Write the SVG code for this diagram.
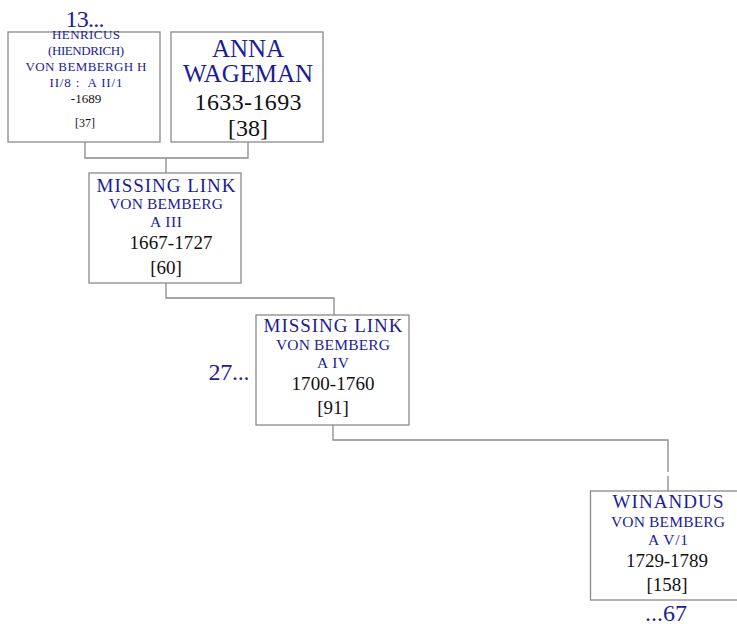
<svg xmlns="http://www.w3.org/2000/svg" width="737" height="626" viewBox="0 0 737 626">
<style>
.box{fill:#fff;stroke:#8a8a8a;stroke-width:1.3}
.ln{fill:none;stroke:#8a8a8a;stroke-width:1.3}
text{font-family:"Liberation Serif","DejaVu Serif",serif;text-anchor:middle}
.b{fill:#1c1c96}
.k{fill:#111}
</style>
<rect width="737" height="626" fill="#fff"/>
<g id="connectors">
<path class="ln" d="M85,142 V158 H248 V142 M166,158 V173"/>
<path class="ln" d="M166,283 V298 H334 V315"/>
<path class="ln" d="M333,425 V440 H668 V472 M668,476 V491"/>
</g>
<g id="n37">
<rect class="box" x="8" y="32" width="152" height="110"/>
<text class="b" x="86" y="39" font-size="13" textLength="68">HENRICUS</text>
<text class="b" x="86" y="55" font-size="13" textLength="76">(HIENDRICH)</text>
<text class="b" x="86" y="71" font-size="13" textLength="121">VON BEMBERGH H</text>
<text class="b" x="86" y="87" font-size="13" textLength="73" xml:space="preserve">II/8 :  A II/1</text>
<text class="k" x="86" y="103" font-size="13">-1689</text>
<text class="k" x="85" y="127" font-size="12">[37]</text>
</g>
<g id="n38">
<rect class="box" x="171" y="32" width="152" height="110"/>
<text class="b" x="248" y="57" font-size="25" textLength="72">ANNA</text>
<text class="b" x="248" y="82" font-size="25" textLength="130">WAGEMAN</text>
<text class="k" x="248" y="110" font-size="24" textLength="107">1633-1693</text>
<text class="k" x="248" y="136" font-size="24">[38]</text>
</g>
<g id="n60">
<rect class="box" x="89" y="173" width="152" height="110"/>
<text class="b" x="166" y="192" font-size="19" textLength="139">MISSING LINK</text>
<text class="b" x="166" y="209" font-size="15.5" textLength="114">VON BEMBERG</text>
<text class="b" x="166" y="227" font-size="15.5" textLength="32">A III</text>
<text class="k" x="171" y="249" font-size="19" textLength="83">1667-1727</text>
<text class="k" x="166" y="274" font-size="19">[60]</text>
</g>
<g id="n91">
<rect class="box" x="256" y="315" width="153" height="110"/>
<text class="b" x="333" y="332" font-size="19" textLength="139">MISSING LINK</text>
<text class="b" x="333" y="350" font-size="15.5" textLength="114">VON BEMBERG</text>
<text class="b" x="333" y="368" font-size="15.5" textLength="32">A IV</text>
<text class="k" x="333" y="390" font-size="19" textLength="83">1700-1760</text>
<text class="k" x="333" y="414" font-size="19">[91]</text>
<text class="b" x="229" y="380" font-size="24" textLength="41">27...</text>
</g>
<g id="n158">
<rect class="box" x="590.5" y="491" width="160" height="109"/>
<text class="b" x="668" y="508" font-size="19" textLength="111">WINANDUS</text>
<text class="b" x="668" y="527" font-size="15.5" textLength="114">VON BEMBERG</text>
<text class="b" x="668" y="545" font-size="15.5" textLength="40">A V/1</text>
<text class="k" x="667" y="567" font-size="19" textLength="82">1729-1789</text>
<text class="k" x="667" y="591" font-size="19">[158]</text>
<text class="b" x="666" y="621" font-size="24" textLength="42">...67</text>
</g>
<g id="n13">
<text class="b" x="85" y="27" font-size="24" textLength="39">13...</text>
</g>
</svg>
